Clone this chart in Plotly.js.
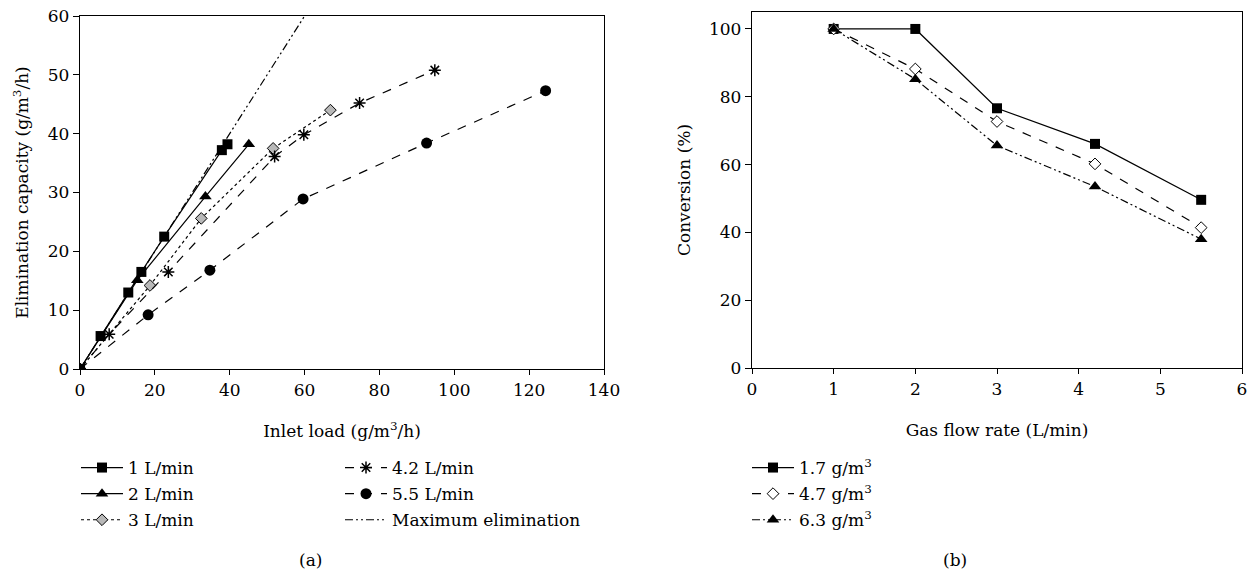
<!DOCTYPE html>
<html>
<head>
<meta charset="utf-8">
<script src="https://cdn.plot.ly/plotly-3.0.1.min.js"></script>
<style>
html,body{margin:0;padding:0;background:#fff;}
#chart{width:1250px;height:572px;}
</style>
</head>
<body>
<div id="chart"></div>
<script>
// ---- Panel (a): elimination capacity vs inlet load ----
const load1 = [0, 5.5, 12.9, 16.4, 22.5, 37.9, 39.4];
const ec1   = [0, 5.6, 13.0, 16.5, 22.5, 37.2, 38.2];
const load2 = [0, 15.3, 33.5, 45.1];
const ec2   = [0, 15.1, 29.3, 38.2];
const load3 = [0, 18.7, 32.4, 51.6, 66.9];
const ec3   = [0, 14.2, 25.6, 37.5, 44.0];
const load42 = [0, 7.8, 23.6, 52.0, 59.8, 74.7, 94.8];
const ec42   = [0, 5.9, 16.5, 36.1, 39.8, 45.2, 50.8];
const load55 = [0, 18.2, 34.7, 59.6, 92.6, 124.4];
const ec55   = [0, 9.2, 16.8, 28.9, 38.4, 47.3];
const loadMax = [0, 60];
const ecMax   = [0, 60];
const namesA = ["1 L/min", "2 L/min", "3 L/min", "4.2 L/min", "5.5 L/min", "Maximum elimination"];

// ---- Panel (b): conversion vs gas flow rate ----
const flow = [1, 2, 3, 4.2, 5.5];
const conv17 = [100, 100, 76.6, 66.1, 49.6];
const conv47 = [100, 88.2, 72.7, 60.2, 41.4];
const conv63 = [100, 85.2, 65.6, 53.5, 38.0];
const namesB = ["1.7 g/m<sup>3</sup>", "4.7 g/m<sup>3</sup>", "6.3 g/m<sup>3</sup>"];

const FONT = "DejaVu Serif";
const W = 1250, H = 572;
const fx = p => p / W;
const fy = p => 1 - p / H;

function tr(x, y, name, dash, symbol, size, fill, leg, grp, xa, ya) {
  return {
    x: x, y: y, name: name, type: "scatter", mode: "lines+markers",
    xaxis: xa, yaxis: ya, legend: leg, legendgroup: grp,
    line: {color: "#000", width: 1.2, dash: dash},
    marker: {symbol: symbol, size: size, color: fill, line: {color: "#000", width: (symbol.indexOf("asterisk") >= 0 ? 1.5 : (fill === "#000" ? 0 : 1))}},
    hoverinfo: "x+y"
  };
}

const longDashDot2 = "8px,3px,2px,3px,2px,3px";

const data = [
  tr(load1, ec1, namesA[0], "solid", "square", 10, "#000", "legend", "a1", "x", "y"),
  tr(load2, ec2, namesA[1], "solid", "triangle-up", 11, "#000", "legend", "a2", "x", "y"),
  tr(load3, ec3, namesA[2], "dot", "diamond", 9, "#b8b8b8", "legend", "a3", "x", "y"),
  tr(load42, ec42, namesA[3], "dash", "asterisk-open", 10, "#000", "legend2", "a4", "x", "y"),
  tr(load55, ec55, namesA[4], "dash", "circle", 11, "#000", "legend2", "a5", "x", "y"),
  Object.assign(tr(loadMax, ecMax, namesA[5], longDashDot2, "circle", 1, "#000", "legend2", "a6", "x", "y"), {mode: "lines"}),
  tr(flow, conv17, namesB[0], "solid", "square", 10, "#000", "legend3", "b1", "x2", "y2"),
  tr(flow, conv47, namesB[1], "dash", "diamond", 9, "#fff", "legend3", "b2", "x2", "y2"),
  tr(flow, conv63, namesB[2], longDashDot2, "triangle-up", 11, "#000", "legend3", "b3", "x2", "y2")
];

const axBase = {
  showline: true, linecolor: "#000", linewidth: 1.2, mirror: true,
  ticks: "outside", ticklen: 5, tickcolor: "#000", tickwidth: 1,
  showgrid: false, zeroline: false,
  tickfont: {family: FONT, size: 17, color: "#000"},
  fixedrange: true
};

const legBase = {
  font: {family: FONT, size: 17, color: "#000"},
  bgcolor: "rgba(0,0,0,0)", borderwidth: 0,
  xanchor: "left", yanchor: "top",
  itemwidth: 42, tracegroupgap: 1, itemclick: false
};

const layout = {
  width: W, height: H,
  margin: {l: 0, r: 0, t: 0, b: 0},
  paper_bgcolor: "#fff", plot_bgcolor: "#fff",
  font: {family: FONT, size: 17, color: "#000"},
  xaxis: Object.assign({}, axBase, {
    domain: [fx(80), fx(604)], range: [0, 140], dtick: 20, anchor: "y",
    title: {text: "Inlet load (g/m<sup>3</sup>/h)", font: {family: FONT, size: 17, color: "#000"}, standoff: 26}
  }),
  yaxis: Object.assign({}, axBase, {
    domain: [fy(369), fy(16)], range: [0, 60], dtick: 10, anchor: "x", ticklen: 6,
    title: {text: "Elimination capacity (g/m<sup>3</sup>/h)", font: {family: FONT, size: 17, color: "#000"}, standoff: 14}
  }),
  xaxis2: Object.assign({}, axBase, {
    domain: [fx(752), fx(1242)], range: [0, 6], dtick: 1, anchor: "y2",
    title: {text: "Gas flow rate (L/min)", font: {family: FONT, size: 17, color: "#000"}, standoff: 26}
  }),
  yaxis2: Object.assign({}, axBase, {
    domain: [fy(368), fy(12)], range: [0, 105], tickvals: [0, 20, 40, 60, 80, 100], anchor: "x2", ticklen: 6,
    title: {text: "Conversion (%)", font: {family: FONT, size: 17, color: "#000"}, standoff: 14}
  }),
  legend: Object.assign({}, legBase, {x: fx(76), y: fy(450)}),
  legend2: Object.assign({}, legBase, {x: fx(340), y: fy(450)}),
  legend3: Object.assign({}, legBase, {x: fx(747), y: fy(450)}),
  annotations: [
    {text: "(a)", x: fx(310), y: fy(560), xref: "paper", yref: "paper", showarrow: false, xanchor: "center", yanchor: "middle", font: {family: FONT, size: 17, color: "#000"}},
    {text: "(b)", x: fx(955), y: fy(560), xref: "paper", yref: "paper", showarrow: false, xanchor: "center", yanchor: "middle", font: {family: FONT, size: 17, color: "#000"}}
  ],
  showlegend: true
};

Plotly.newPlot("chart", data, layout, {displayModeBar: false, staticPlot: true});
</script>
</body>
</html>
